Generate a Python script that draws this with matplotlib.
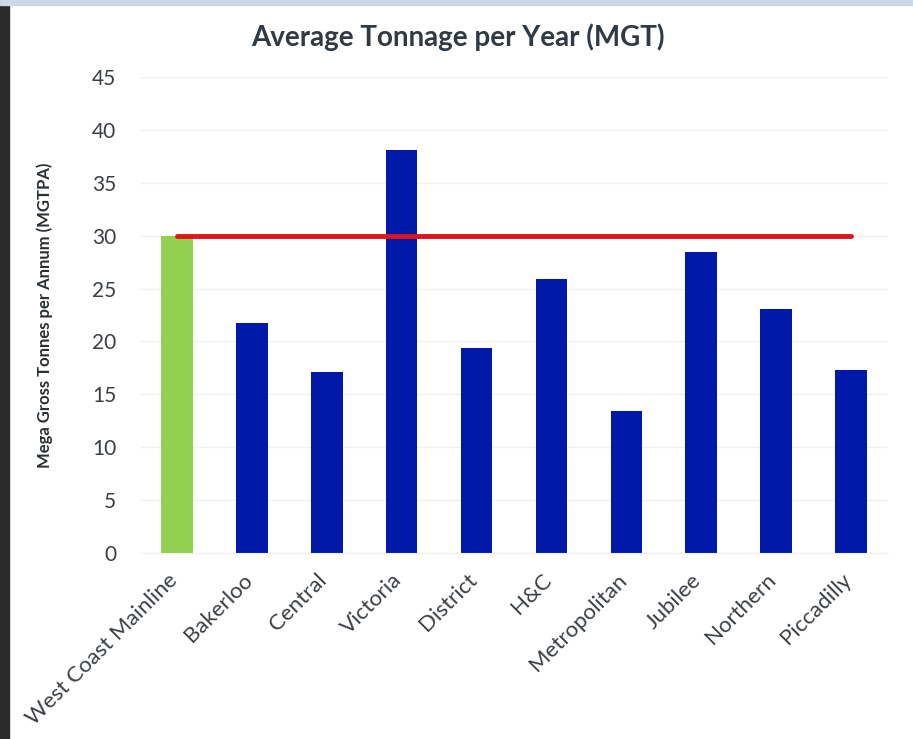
import matplotlib.pyplot as plt
import matplotlib.transforms as mtransforms
import numpy as np
from matplotlib.patches import Rectangle

# data
lines = ['West Coast Mainline', 'Bakerloo', 'Central', 'Victoria', 'District',
         'H&C', 'Metropolitan', 'Jubilee', 'Northern', 'Piccadilly']
tonnage = [30.0, 21.7, 17.1, 38.1, 19.4, 25.9, 13.4, 28.45, 23.1, 17.3]
benchmark = 30.0
yticks = [0, 5, 10, 15, 20, 25, 30, 35, 40, 45]

plt.rcParams['font.family'] = ['Lato', 'DejaVu Sans']

fig = plt.figure(figsize=(9.13, 7.39), dpi=100)
ax = fig.add_axes([0.153, 0.2517, 0.82, 0.6441])

x = np.arange(len(lines))
colors = ['#92D050'] + ['#0019A8'] * (len(lines) - 1)
ax.bar(x, tonnage, width=0.42, color=colors, zorder=2)
ax.plot([x[0], x[-1]], [benchmark, benchmark], color='#E0141B', linewidth=3.5,
        solid_capstyle='round', zorder=3)

ax.set_xlim(-0.5, 9.5)
ax.set_ylim(0, 45)
ax.set_yticks(yticks)
ax.set_xticks(x)
ax.set_xticklabels([])

# category labels, sitting a little left of their bars like in the reference
shift = mtransforms.ScaledTranslation(-10 / 100, -17 / 100, fig.dpi_scale_trans)
for xi, name in zip(x, lines):
    ax.text(xi, 0, name, transform=ax.get_xaxis_transform() + shift,
            rotation=45, ha='right', va='top', rotation_mode='anchor',
            fontsize=16, color='#3a3f44')

ax.tick_params(axis='y', labelsize=15, labelcolor='#3a3f44', length=0, pad=17)
ax.tick_params(axis='x', length=0)
ax.grid(axis='y', color='#f0f0f0', linewidth=1, zorder=0)
for s in ax.spines.values():
    s.set_visible(False)
ax.spines['bottom'].set_visible(True)
ax.spines['bottom'].set_color('#f0f0f0')

ax.set_ylabel('Mega Gross Tonnes per Annum (MGTPA)', fontsize=12, fontweight='bold',
              color='#2a2f33', labelpad=28)
fig.text(0.502, 0.95, 'Average Tonnage per Year (MGT)', ha='center', va='center',
         fontsize=20, fontweight='bold', color='#2f3a44')

# frame edges seen in the screenshot
fig.patches.append(Rectangle((0, 0), 0.01, 1, transform=fig.transFigure,
                             color='#2a2a2a', zorder=0))
fig.patches.append(Rectangle((0, 0.993), 1, 0.007, transform=fig.transFigure,
                             color='#c9d9ea', zorder=0))

fig.savefig('out.png', dpi=100)
